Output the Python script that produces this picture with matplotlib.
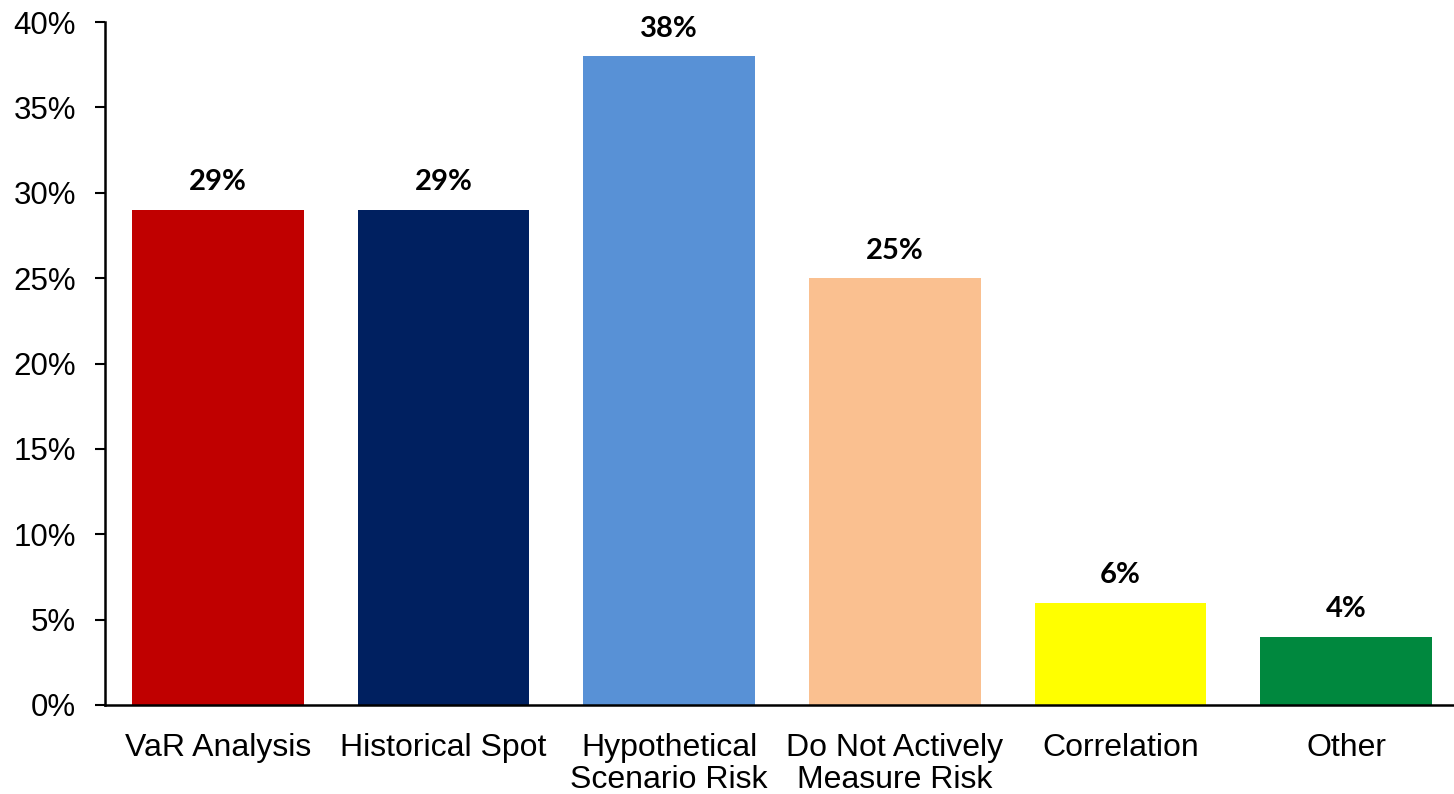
import matplotlib.pyplot as plt
import numpy as np

categories = ["VaR Analysis", "Historical Spot", "Hypothetical\nScenario Risk",
              "Do Not Actively\nMeasure Risk", "Correlation", "Other"]
values = [29, 29, 38, 25, 6, 4]
colors = ["#C00000", "#002060", "#5891D6", "#FAC090", "#FFFF00", "#00883E"]
yticks = [0, 5, 10, 15, 20, 25, 30, 35, 40]

fig = plt.figure(figsize=(14.54, 7.94), dpi=100)
ax = fig.add_axes([105 / 1454, 89 / 794, 1354 / 1454, 683 / 794])

x = np.arange(len(categories))
bars = ax.bar(x, values, width=0.76, color=colors)

# value labels above bars
for rect, v in zip(bars, values):
    ax.annotate(f"{v}%", (rect.get_x() + rect.get_width() / 2, v),
                xytext=(0, 14), textcoords="offset points",
                ha="center", va="baseline", fontsize=21,
                fontweight="bold", family="Lato")

ax.set_xlim(-0.5, len(categories) - 0.5)
ax.set_ylim(0, 40)
ax.set_yticks(yticks)
ax.set_yticklabels([f"{t}%" for t in yticks], family="Liberation Sans", fontsize=22.5)
ax.set_xticks(x)
ax.set_xticklabels(categories, family="Liberation Sans", fontsize=23, linespacing=1.1)

ax.tick_params(axis="x", length=0, pad=20)
ax.tick_params(axis="y", length=7, width=1.5, pad=14, direction="out")
for side in ["top", "right"]:
    ax.spines[side].set_visible(False)
for side in ["left", "bottom"]:
    ax.spines[side].set_linewidth(1.8)

fig.savefig("out.png", dpi=100)
